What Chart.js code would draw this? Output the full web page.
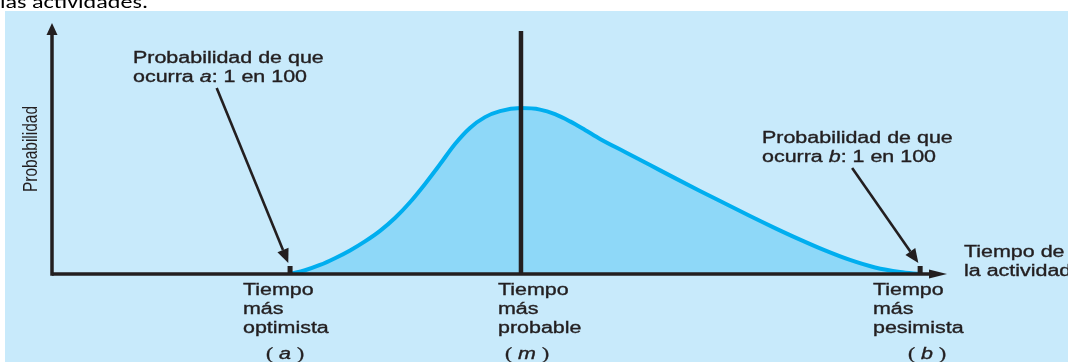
<!DOCTYPE html>
<html>
<head>
<meta charset="utf-8">
<script src="https://cdn.jsdelivr.net/npm/chart.js@4/dist/chart.umd.min.js"></script>
<style>
  html, body { margin: 0; padding: 0; background: #ffffff; width: 1068px; height: 362px; overflow: hidden; }
  #panel { position: absolute; left: 5px; top: 11px; right: 0; bottom: 0; background: #c8eafb; }
  #c { position: absolute; left: 0; top: 0; }
</style>
</head>
<body>
<div id="panel"></div>
<canvas id="c" width="1068" height="362"></canvas>
<script>
// ---- data (time axis 0..100, probability 0..100) ----
const curveTime = [26.59, 28.27, 29.94, 31.62, 33.30, 34.97, 36.65, 38.32, 40.00, 41.68, 43.35, 45.03, 46.70, 48.38, 50.06, 52.40,
                   54.53, 56.20, 57.88, 59.55, 61.23, 64.02, 66.82, 69.61, 72.40, 75.20, 77.99, 80.78, 83.58, 86.37, 89.16, 91.96, 94.75, 96.98];
const curveProb = [0.0, 1.5, 3.6, 6.3, 9.4, 13.0, 17.2, 22.3, 28.6, 35.9, 43.7, 51.8, 58.2, 62.5, 64.9, 66.1,
                   65.5, 63.7, 60.8, 57.4, 53.8, 48.6, 43.4, 38.2, 33.1, 28.1, 23.1, 18.3, 13.7, 9.4, 5.6, 2.6, 0.8, 0.0];
const markerTimes = [26.6, 52.4, 97.0];          // a, m, b
const markerNames = ['a', 'm', 'b'];
const markerLabels = [['Tiempo', 'más', 'optimista'], ['Tiempo', 'más', 'probable'], ['Tiempo', 'más', 'pesimista']];
const modeLineTop = 96.8;
const noteLines = [['Probabilidad de que', 'ocurra ', 'a', ': 1 en 100'], ['Probabilidad de que', 'ocurra ', 'b', ': 1 en 100']];
const noteArrowFrom = [[18.4, 74.1], [89.4, 42.2]];
const noteArrowTo = [[26.4, 4.4], [96.8, 4.4]];
const yAxisTitle = 'Probabilidad';
const xAxisTitle = ['Tiempo de', 'la actividad'];
const headerText = 'las actividades.';

const INK = '#231f20';
const SANS = '"Liberation Sans", Arial, sans-serif';
const SX = 1.34; // horizontal stretch of the lettering

function arrow(ctx, x1, y1, x2, y2, lw, headLen, headHalf) {
  const ang = Math.atan2(y2 - y1, x2 - x1);
  const bx = x2 - headLen * Math.cos(ang), by = y2 - headLen * Math.sin(ang);
  ctx.save();
  ctx.strokeStyle = INK; ctx.fillStyle = INK; ctx.lineWidth = lw; ctx.lineCap = 'butt';
  ctx.beginPath(); ctx.moveTo(x1, y1); ctx.lineTo(bx, by); ctx.stroke();
  ctx.beginPath();
  ctx.moveTo(x2, y2);
  ctx.lineTo(bx + headHalf * Math.sin(ang), by - headHalf * Math.cos(ang));
  ctx.lineTo(bx - headHalf * Math.sin(ang), by + headHalf * Math.cos(ang));
  ctx.closePath(); ctx.fill();
  ctx.restore();
}

function textW(ctx, t, f) { ctx.font = f; return ctx.measureText(t).width * SX; }
function sText(ctx, t, x, y, f) {
  ctx.save(); ctx.translate(x, y); ctx.scale(SX, 1); ctx.font = f;
  ctx.fillText(t, 0, 0);
  ctx.lineWidth = 0.35; ctx.strokeStyle = ctx.fillStyle; ctx.strokeText(t, 0, 0);
  ctx.restore();
}
function drawSegments(ctx, x, y, segs) {
  let cx = x;
  segs.forEach(([t, f]) => { sText(ctx, t, cx, y, f); cx += textW(ctx, t, f); });
}

const decor = {
  id: 'decor',
  afterDatasetsDraw(chart) {
    const ctx = chart.ctx;
    const xs = chart.scales.x, ys = chart.scales.y;
    const x0 = xs.getPixelForValue(0), y0 = ys.getPixelForValue(0);
    const yTop = ys.getPixelForValue(100), xEnd = xs.getPixelForValue(100);
    ctx.save();
    ctx.fillStyle = INK;
    // axes
    ctx.strokeStyle = INK; ctx.lineWidth = 3.5;
    ctx.beginPath(); ctx.moveTo(x0, y0); ctx.lineTo(xEnd - 12, y0); ctx.stroke();
    ctx.beginPath(); ctx.moveTo(x0, y0 + 1.75); ctx.lineTo(x0, yTop + 8); ctx.stroke();
    // arrowheads
    ctx.beginPath(); ctx.moveTo(xEnd, y0); ctx.lineTo(xEnd - 18, y0 - 4.5); ctx.lineTo(xEnd - 18, y0 + 4.5); ctx.closePath(); ctx.fill();
    ctx.beginPath(); ctx.moveTo(x0, yTop); ctx.lineTo(x0 - 5.5, yTop + 12); ctx.lineTo(x0 + 5.5, yTop + 12); ctx.closePath(); ctx.fill();
    // tick marks at a and b
    [0, 2].forEach(i => {
      const px = xs.getPixelForValue(markerTimes[i]);
      ctx.fillRect(px - 2.5, y0 - 8, 5, 8);
    });
    // annotation arrows
    for (let i = 0; i < 2; i++) {
      arrow(ctx, xs.getPixelForValue(noteArrowFrom[i][0]), ys.getPixelForValue(noteArrowFrom[i][1]),
                 xs.getPixelForValue(noteArrowTo[i][0]), ys.getPixelForValue(noteArrowTo[i][1]), 2.6, 14, 6);
    }
    // texts
    ctx.fillStyle = INK; ctx.textBaseline = 'alphabetic'; ctx.textAlign = 'left';
    const f = '16px ' + SANS, fi = 'italic 16px ' + SANS;
    const notePos = [[133, 63], [762, 143]];
    for (let i = 0; i < 2; i++) {
      const [tx, ty] = notePos[i];
      sText(ctx, noteLines[i][0], tx, ty, f);
      drawSegments(ctx, tx, ty + 19, [[noteLines[i][1], f], [noteLines[i][2], fi], [noteLines[i][3], f]]);
    }
    // labels under markers
    const labelLeft = [243, 498, 873];
    const parenCenter = [285, 527, 927];
    const pf = '16px "Liberation Serif", serif';
    for (let i = 0; i < 3; i++) {
      markerLabels[i].forEach((t, k) => sText(ctx, t, labelLeft[i], 295 + k * 19, f));
      const wp = textW(ctx, '(', pf), ws = textW(ctx, ' ', f), wq = textW(ctx, ')', pf);
      const wn = textW(ctx, markerNames[i], fi);
      const total = wp + ws + wn + ws + wq;
      const sx = parenCenter[i] - total / 2;
      drawSegments(ctx, sx, 359, [['(', pf], [' ', f], [markerNames[i], fi], [' ', f], [')', pf]]);
    }
    // x axis title
    sText(ctx, xAxisTitle[0], 964, 257, f);
    sText(ctx, xAxisTitle[1], 964, 276, f);
    // y axis title
    ctx.save();
    ctx.translate(37, 149);
    ctx.scale(SX, 1);
    ctx.rotate(-Math.PI / 2);
    ctx.textAlign = 'center';
    ctx.font = '15.5px ' + SANS;
    ctx.fillText(yAxisTitle, 0, 0);
    ctx.restore();
    // header text (cut at top)
    ctx.fillStyle = '#000000';
    ctx.save(); ctx.translate(0, 8); ctx.scale(SX, 1);
    ctx.font = '18px "Carlito", "Liberation Sans", sans-serif';
    ctx.fillText(headerText, 0, 0);
    ctx.restore();
    ctx.restore();
  }
};

new Chart(document.getElementById('c'), {
  type: 'line',
  data: {
    datasets: [
      {
        label: 'mode',
        data: [{ x: markerTimes[1], y: 0 }, { x: markerTimes[1], y: modeLineTop }],
        borderColor: '#231f20', borderWidth: 4.5, pointRadius: 0, fill: false, tension: 0, order: 0
      },
      {
        label: 'curve',
        data: curveTime.map((t, i) => ({ x: t, y: curveProb[i] })),
        borderColor: '#00aeef', backgroundColor: '#8ed8f8', borderWidth: 4,
        pointRadius: 0, fill: 'origin', cubicInterpolationMode: 'monotone', order: 1
      }
    ]
  },
  options: {
    responsive: false, animation: false, devicePixelRatio: 1,
    layout: { padding: { left: 52, right: 121, top: 23, bottom: 88 } },
    plugins: { legend: { display: false }, tooltip: { enabled: false } },
    scales: {
      x: { type: 'linear', min: 0, max: 100, display: false },
      y: { min: 0, max: 100, display: false }
    }
  },
  plugins: [decor]
});
</script>
</body>
</html>
